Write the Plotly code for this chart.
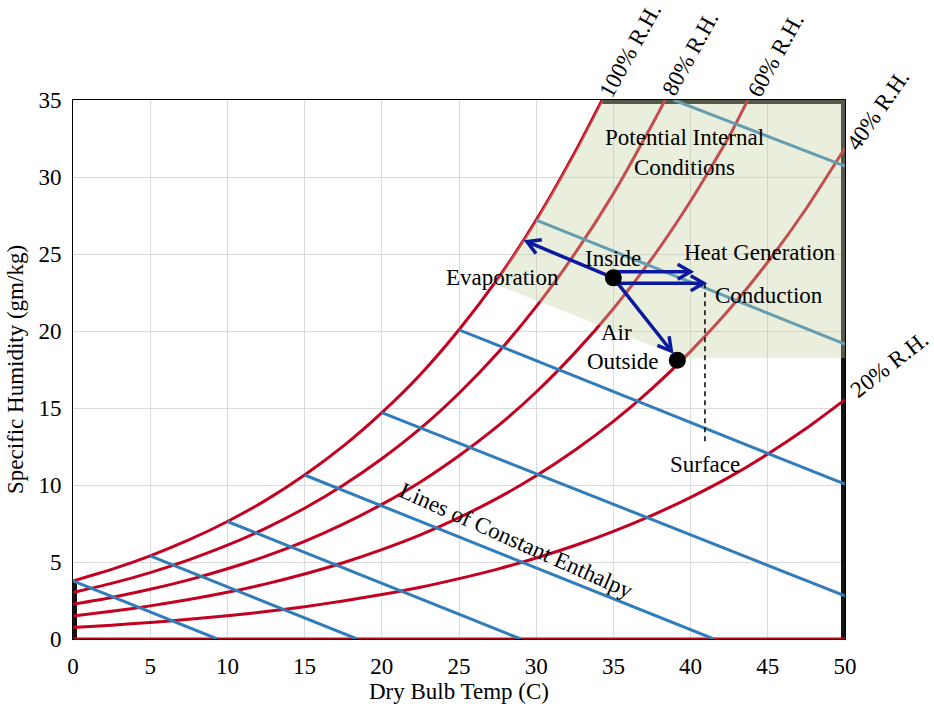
import numpy as np
import plotly.graph_objects as go

# ---------------- data ----------------
temps = [0, 2.5, 5, 7.5, 10, 12.5, 15, 17.5, 20, 22.5, 25, 27.5, 30, 32.5, 35,
         37.5, 40, 42.5, 45, 47.5, 50]

rh100_x = [0, 2.5, 5, 7.5, 10, 12.5, 15, 17.5, 20, 22.5, 25, 27.5, 30, 32.5, 34.27]
rh100_y = [3.77, 4.52, 5.40, 6.43, 7.63, 9.02, 10.65, 12.52, 14.70, 17.18, 20.08,
           23.38, 27.20, 31.59, 35.0]

rh80_x = [0, 2.5, 5, 7.5, 10, 12.5, 15, 17.5, 20, 22.5, 25, 27.5, 30, 32.5, 35, 37.5, 38.35]
rh80_y = [3.02, 3.61, 4.31, 5.14, 6.09, 7.20, 8.49, 9.98, 11.70, 13.67, 15.96, 18.57,
          21.58, 25.02, 28.92, 33.39, 35.0]

rh60_x = [0, 2.5, 5, 7.5, 10, 12.5, 15, 17.5, 20, 22.5, 25, 27.5, 30, 32.5, 35, 37.5,
          40, 42.5, 43.7]
rh60_y = [2.26, 2.70, 3.23, 3.84, 4.56, 5.38, 6.34, 7.46, 8.74, 10.20, 11.90, 13.82,
          16.04, 18.58, 21.44, 24.71, 28.44, 32.64, 35.0]

rh40_x = temps
rh40_y = [1.50, 1.80, 2.15, 2.56, 3.03, 3.58, 4.22, 4.95, 5.80, 6.76, 7.88, 9.15,
          10.60, 12.26, 14.13, 16.26, 18.68, 21.39, 24.48, 27.97, 31.88]

rh20_x = temps
rh20_y = [0.75, 0.90, 1.07, 1.28, 1.51, 1.78, 2.10, 2.47, 2.89, 3.36, 3.92, 4.54,
          5.26, 6.07, 6.99, 8.03, 9.20, 10.51, 12.01, 13.68, 15.54]

rh0_x = [0, 50]
rh0_y = [0, 0]

# lines of constant enthalpy: start / end points
enth_x0 = [0, 5, 10, 15, 20, 25, 30, 38.9]
enth_y0 = [3.77, 5.40, 7.63, 10.65, 14.70, 20.08, 27.20, 35.0]
enth_x1 = [9.35, 18.4, 29.0, 41.5, 50, 50, 50, 50]
enth_y1 = [0, 0, 0, 0, 2.8, 10.05, 19.15, 30.7]

# potential internal conditions region
region_x = [27.2, 39.5, 50, 50, 34.27, 32.5, 30.0, 27.5, 27.2]
region_y = [23.1, 18.25, 18.25, 35, 35, 31.59, 27.20, 23.38, 23.1]

# states
inside_x, inside_y = 35.0, 23.45
outside_x, outside_y = 39.14, 18.1

# arrows (start -> tip)
arrow_x0 = [35.0, 35.0, 35.0, 35.0]
arrow_y0 = [23.45, 23.85, 23.1, 23.45]
arrow_x1 = [29.4, 40.0, 40.85, 38.75]
arrow_y1 = [25.8, 23.85, 23.1, 18.7]

surface_x = [40.93, 40.93]
surface_y = [23.1, 12.8]

# text labels inside the plot: (text, x, y, angle)
labels = [
    ("Potential Internal<br>Conditions", 39.6, 31.6, 0),
    ("Inside", 35.0, 24.7, 0),
    ("Evaporation", 27.8, 23.5, 0),
    ("Heat Generation", 44.5, 25.1, 0),
    ("Conduction", 45.1, 22.3, 0),
    ("Air", 35.2, 19.9, 0),
    ("Outside", 35.6, 18.0, 0),
    ("Surface", 40.9, 11.3, 0),
    ("Lines of Constant Enthalpy", 28.7, 6.4, 24),
]
# relative-humidity labels beyond the axes: (text, x, y, angle)
rh_labels = [
    ("100% R.H.", 36.1, 38.2, -61),
    ("80% R.H.", 40.0, 38.0, -61),
    ("60% R.H.", 45.5, 37.9, -61),
    ("40% R.H.", 52.1, 34.35, -55),
    ("20% R.H.", 52.9, 17.8, -38),
]

X_RANGE = [0, 50]
Y_RANGE = [0, 35]

# ---------------- styles ----------------
RED = "rgb(196,0,32)"
BLUE = "rgb(50,125,185)"
ARROW = "rgb(10,25,158)"
FILL = "rgba(195,211,160,0.37)"
FONT = "Liberation Serif"
FS = 23

W, H = 934, 710
ML, MR, MT, MB = 73, 89, 100, 71
SX = (W - ML - MR) / (X_RANGE[1] - X_RANGE[0])
SY = (H - MT - MB) / (Y_RANGE[1] - Y_RANGE[0])

fig = go.Figure()

# thick black boundary of the chart
for bx, by in [([0, 0], [0, rh100_y[0]]),
               ([rh100_x[-1], 50, 50], [35, 35, 0])]:
    fig.add_trace(go.Scatter(x=bx, y=by, mode="lines",
                             line=dict(color="rgb(20,20,20)", width=8),
                             hoverinfo="skip", showlegend=False))

# relative humidity curves
for cx, cy in [(rh0_x, rh0_y), (rh20_x, rh20_y), (rh40_x, rh40_y),
               (rh60_x, rh60_y), (rh80_x, rh80_y), (rh100_x, rh100_y)]:
    fig.add_trace(go.Scatter(x=cx, y=cy, mode="lines",
                             line=dict(color=RED, width=3, shape="spline", smoothing=0.6),
                             hoverinfo="skip", showlegend=False))

# enthalpy lines
for x0, y0, x1, y1 in zip(enth_x0, enth_y0, enth_x1, enth_y1):
    fig.add_trace(go.Scatter(x=[x0, x1], y=[y0, y1], mode="lines",
                             line=dict(color=BLUE, width=3),
                             hoverinfo="skip", showlegend=False))

# shaded region (drawn over the lines, semi-transparent)
fig.add_trace(go.Scatter(x=region_x, y=region_y, mode="lines", fill="toself",
                         fillcolor=FILL, line=dict(width=0, color="rgba(0,0,0,0)"),
                         hoverinfo="skip", showlegend=False))

# surface dashed line
fig.add_trace(go.Scatter(x=surface_x, y=surface_y, mode="lines",
                         line=dict(color="black", width=1.5, dash="5px,4px"),
                         hoverinfo="skip", showlegend=False))

# arrows with open chevron heads
HL, HA = 15, np.radians(30)
for x0, y0, x1, y1 in zip(arrow_x0, arrow_y0, arrow_x1, arrow_y1):
    fig.add_trace(go.Scatter(x=[x0, x1], y=[y0, y1], mode="lines",
                             line=dict(color=ARROW, width=3.5),
                             hoverinfo="skip", showlegend=False))
    dx, dy = (x1 - x0) * SX, (y1 - y0) * SY
    n = np.hypot(dx, dy)
    ux, uy = dx / n, dy / n
    hx, hy = [], []
    for s in (1, -1):
        a = HA * s
        rx = -(ux * np.cos(a) - uy * np.sin(a))
        ry = -(ux * np.sin(a) + uy * np.cos(a))
        hx.append(x1 + rx * HL / SX)
        hy.append(y1 + ry * HL / SY)
    fig.add_trace(go.Scatter(x=[hx[0], x1, hx[1]], y=[hy[0], y1, hy[1]], mode="lines",
                             line=dict(color=ARROW, width=3.5),
                             hoverinfo="skip", showlegend=False))

# state points
fig.add_trace(go.Scatter(x=[inside_x, outside_x], y=[inside_y, outside_y], mode="markers",
                         marker=dict(color="black", size=17),
                         hoverinfo="skip", showlegend=False))

# ---------------- annotations ----------------
for txt, x, y, ang in labels:
    fig.add_annotation(x=x, y=y, text=txt, showarrow=False, textangle=ang,
                       xanchor="center", yanchor="middle",
                       font=dict(family=FONT, size=FS, color="black"))

# labels outside the axis ranges are placed in paper coordinates
for txt, x, y, ang in rh_labels:
    fig.add_annotation(x=(x - X_RANGE[0]) / (X_RANGE[1] - X_RANGE[0]),
                       y=(y - Y_RANGE[0]) / (Y_RANGE[1] - Y_RANGE[0]),
                       xref="paper", yref="paper", text=txt, showarrow=False,
                       textangle=ang, xanchor="center", yanchor="middle",
                       font=dict(family=FONT, size=FS, color="black"))

axis_common = dict(showgrid=True, gridcolor="rgb(218,218,218)", gridwidth=1,
                   showline=True, linecolor="black", linewidth=1, mirror=True,
                   zeroline=False, ticks="", ticklabelstandoff=6,
                   tickfont=dict(family=FONT, size=FS, color="black"))

fig.update_layout(
    width=W, height=H,
    margin=dict(l=ML, r=MR, t=MT, b=MB),
    paper_bgcolor="white", plot_bgcolor="white",
    showlegend=False,
    xaxis=dict(range=X_RANGE, dtick=5, tick0=0,
               title=dict(text="Dry Bulb Temp (C)", standoff=4,
                          font=dict(family=FONT, size=FS, color="black")),
               **axis_common),
    yaxis=dict(range=Y_RANGE, dtick=5, tick0=0,
               title=dict(text="Specific Humidity (gm/kg)", standoff=8,
                          font=dict(family=FONT, size=FS, color="black")),
               **axis_common),
)

fig.write_html("out.html")
